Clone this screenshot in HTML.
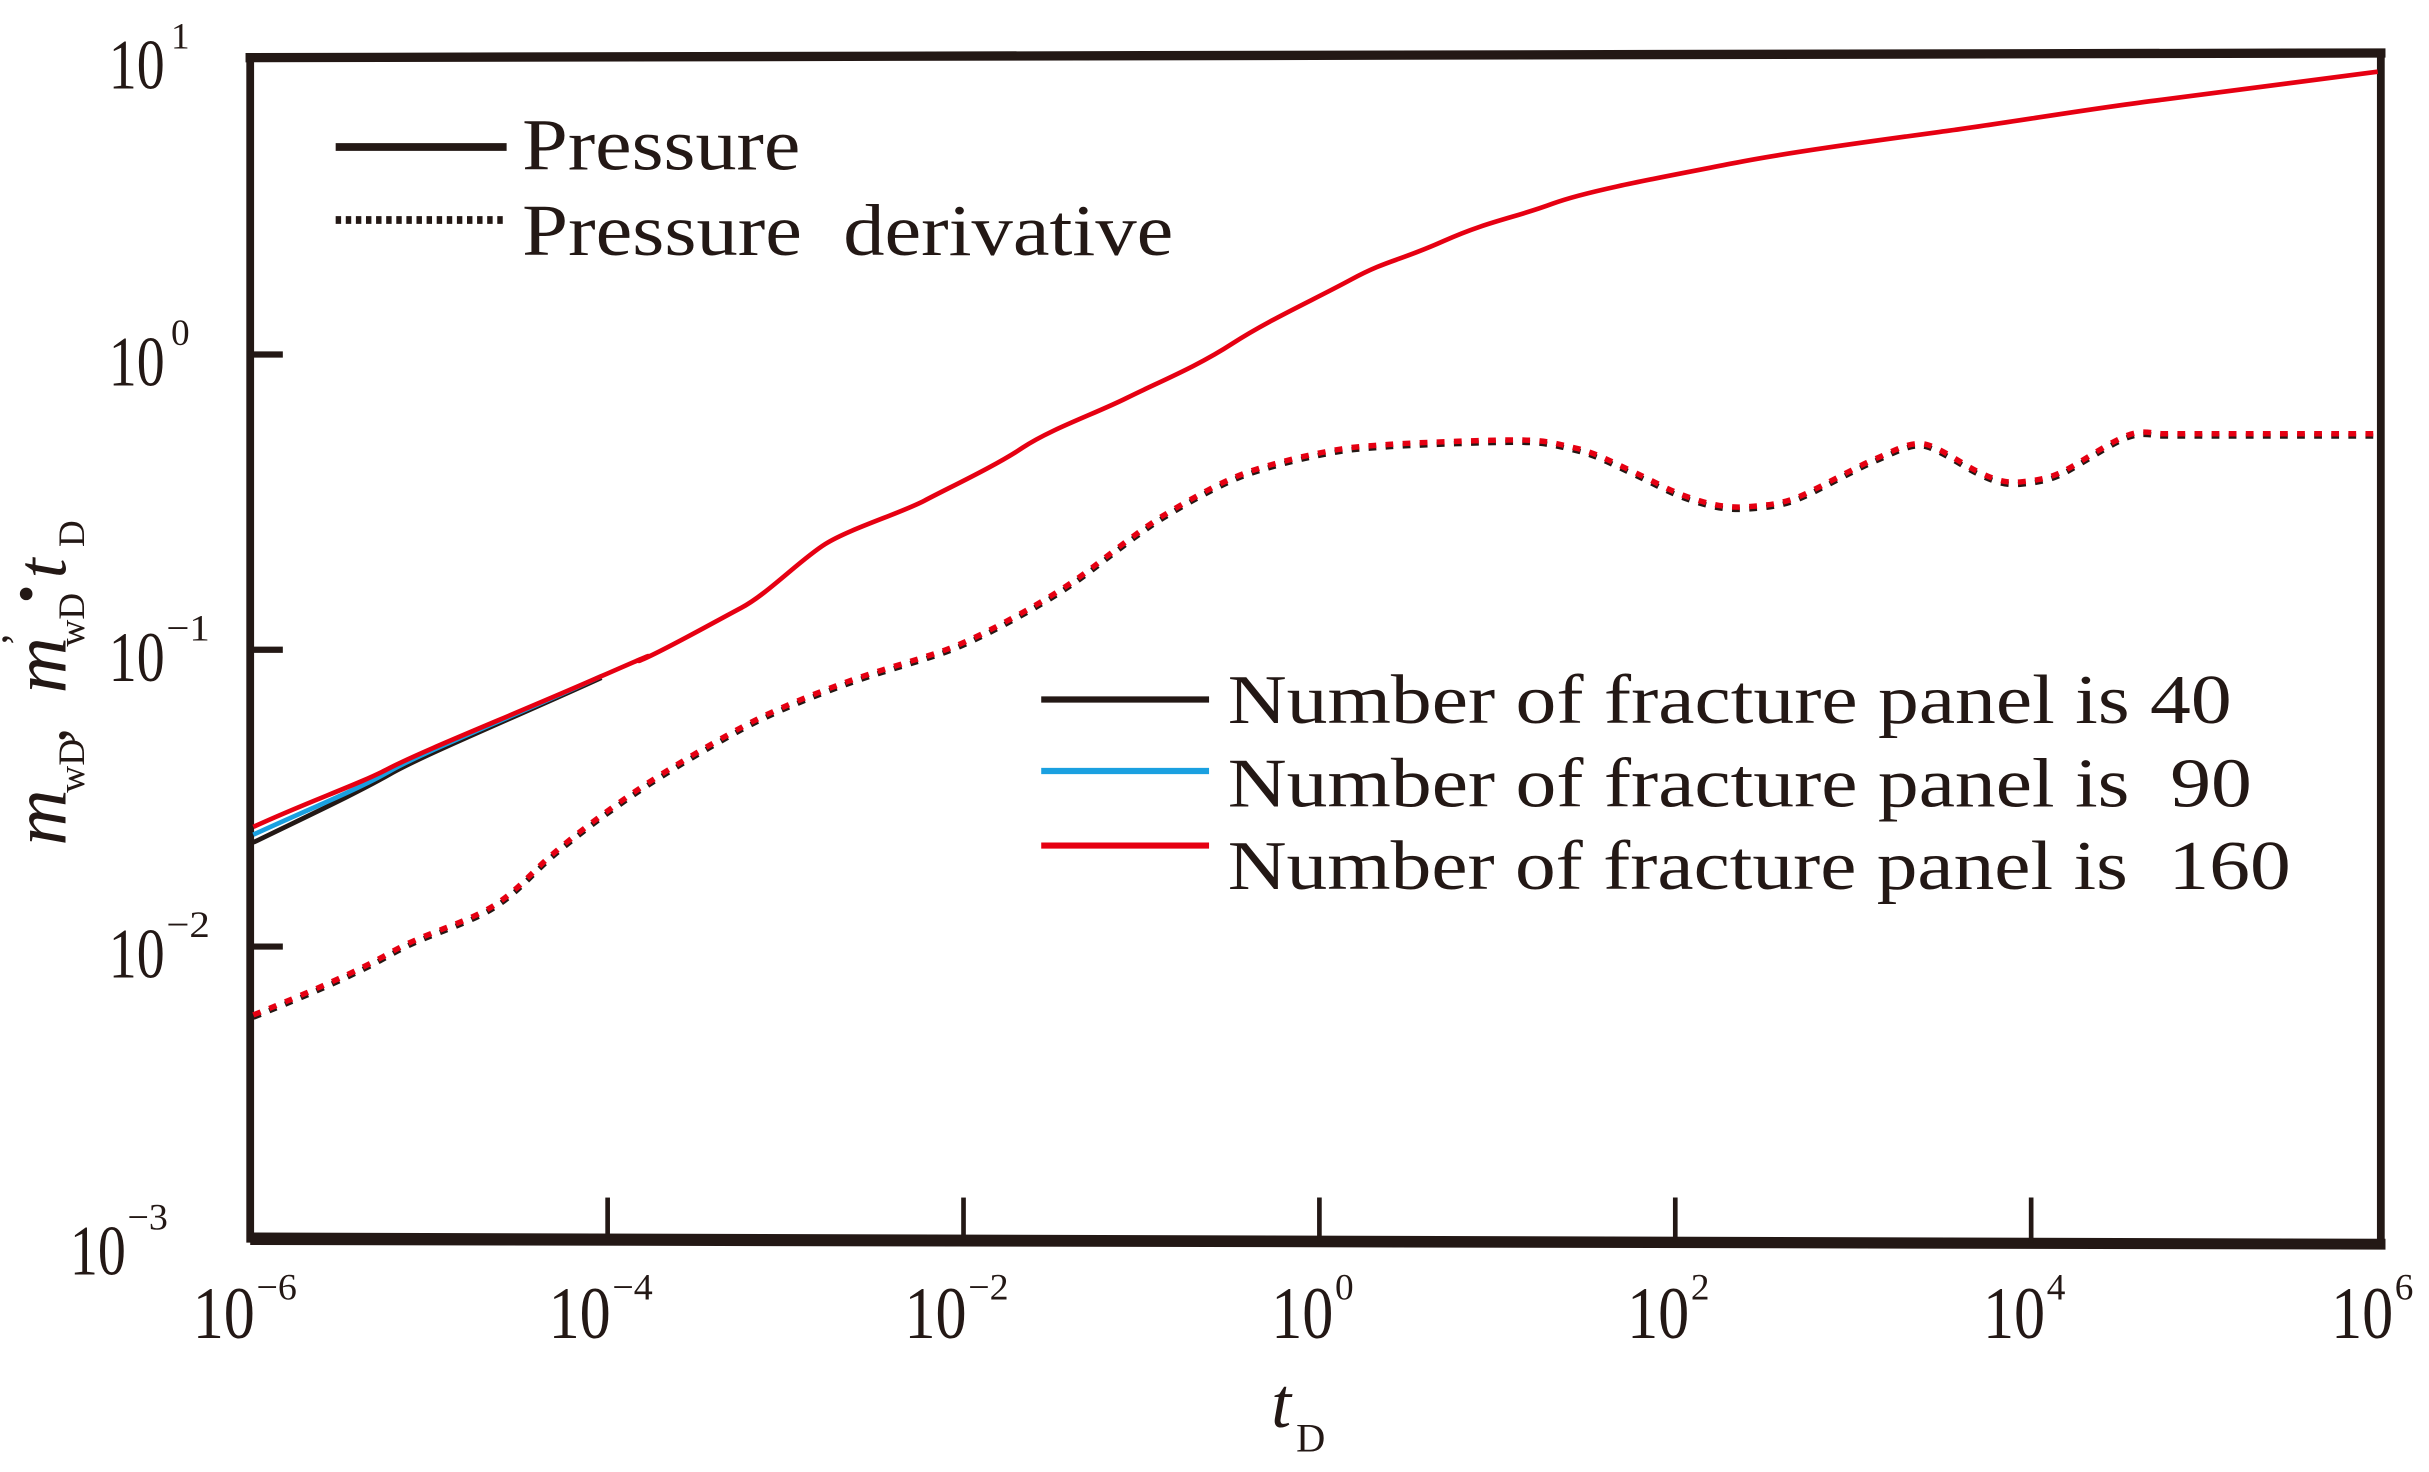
<!DOCTYPE html>
<html><head><meta charset="utf-8"><style>
html,body{margin:0;padding:0;background:#fff;}
svg{display:block;}
text{font-family:"Liberation Serif",serif;fill:#231815;}
</style></head><body>
<svg width="2429" height="1472" viewBox="0 0 1563 947" xmlns="http://www.w3.org/2000/svg">
<rect width="1563" height="947" fill="#fff"/>
<g stroke="#231815" fill="none" stroke-linecap="square">
<line x1="161" y1="37" x2="1532" y2="34" stroke-width="6"/>
<line x1="161" y1="37" x2="161" y2="797" stroke-width="5"/>
<line x1="1532" y1="34" x2="1532" y2="800" stroke-width="5"/>
<polygon points="161,793 1535,797 1535,804 161,801" fill="#231815" stroke="none"/>
<g stroke-width="4">
<line x1="161" y1="228" x2="180" y2="228"/>
<line x1="161" y1="418" x2="180" y2="418"/>
<line x1="161" y1="609" x2="180" y2="609"/>
</g>
<g stroke-width="3">
<line x1="391" y1="795" x2="391" y2="772"/>
<line x1="620" y1="796" x2="620" y2="772"/>
<line x1="849" y1="797" x2="849" y2="772"/>
<line x1="1078" y1="797" x2="1078" y2="772"/>
<line x1="1307" y1="798" x2="1307" y2="772"/>
</g>
</g>
<g font-size="46">
<text x="70" y="57" textLength="36" lengthAdjust="spacingAndGlyphs">10</text><text x="110" y="31" font-size="24">1</text>
<text x="70" y="248" textLength="36" lengthAdjust="spacingAndGlyphs">10</text><text x="110" y="222" font-size="24">0</text>
<text x="70" y="438" textLength="36" lengthAdjust="spacingAndGlyphs">10</text><text x="107" y="412" font-size="24" textLength="28" lengthAdjust="spacingAndGlyphs">−1</text>
<text x="70" y="629" textLength="36" lengthAdjust="spacingAndGlyphs">10</text><text x="107" y="603" font-size="24" textLength="28" lengthAdjust="spacingAndGlyphs">−2</text>
<text x="45" y="820" textLength="36" lengthAdjust="spacingAndGlyphs">10</text><text x="82" y="791" font-size="24" textLength="26" lengthAdjust="spacingAndGlyphs">−3</text>
</g>
<g font-size="48">
<text x="124" y="861" textLength="40" lengthAdjust="spacingAndGlyphs">10</text><text x="165" y="836" font-size="24" textLength="26" lengthAdjust="spacingAndGlyphs">−6</text>
<text x="353" y="861" textLength="40" lengthAdjust="spacingAndGlyphs">10</text><text x="394" y="836" font-size="24" textLength="26" lengthAdjust="spacingAndGlyphs">−4</text>
<text x="582" y="861" textLength="40" lengthAdjust="spacingAndGlyphs">10</text><text x="623" y="836" font-size="24" textLength="26" lengthAdjust="spacingAndGlyphs">−2</text>
<text x="818" y="861" textLength="40" lengthAdjust="spacingAndGlyphs">10</text><text x="859" y="836" font-size="24">0</text>
<text x="1047" y="861" textLength="40" lengthAdjust="spacingAndGlyphs">10</text><text x="1088" y="836" font-size="24">2</text>
<text x="1276" y="861" textLength="40" lengthAdjust="spacingAndGlyphs">10</text><text x="1317" y="836" font-size="24">4</text>
<text x="1500" y="861" textLength="40" lengthAdjust="spacingAndGlyphs">10</text><text x="1541" y="836" font-size="24">6</text>
</g>
<text x="818" y="918" font-size="46" font-style="italic">t</text>
<text x="834" y="934" font-size="26">D</text>
<g transform="translate(42,544) rotate(-90)">
<text x="0" y="0" font-size="50" font-style="italic">m</text>
<text x="34" y="12" font-size="24">wD</text>
<text x="66" y="0" font-size="40">,</text>
<text x="98" y="0" font-size="50" font-style="italic">m</text>
<text x="128" y="-22" font-size="28">’</text>
<text x="128" y="12" font-size="24">wD</text>
<text x="156" y="-14" font-size="34">•</text>
<text x="172" y="0" font-size="46" font-style="italic">t</text>
<text x="192" y="12" font-size="24">D</text>
</g>
<line x1="216" y1="94.5" x2="326" y2="94.5" stroke="#231815" stroke-width="5"/>
<line x1="216" y1="141.5" x2="326" y2="141.5" stroke="#231815" stroke-width="5" stroke-dasharray="3.5 3"/>
<text x="336" y="109" font-size="47" textLength="179" lengthAdjust="spacingAndGlyphs">Pressure</text>
<text x="336" y="164" font-size="47" textLength="419" lengthAdjust="spacingAndGlyphs" xml:space="preserve">Pressure  derivative</text>
<line x1="670" y1="450" x2="778" y2="450" stroke="#231815" stroke-width="4"/>
<line x1="670" y1="496" x2="778" y2="496" stroke="#1aa0e0" stroke-width="4"/>
<line x1="670" y1="544" x2="778" y2="544" stroke="#e60012" stroke-width="4"/>
<text x="790" y="465" font-size="45" textLength="646" lengthAdjust="spacingAndGlyphs">Number of fracture panel is 40</text>
<text x="790" y="519" font-size="45" textLength="659" lengthAdjust="spacingAndGlyphs" xml:space="preserve">Number of fracture panel is  90</text>
<text x="790" y="572" font-size="45" textLength="684" lengthAdjust="spacingAndGlyphs" xml:space="preserve">Number of fracture panel is  160</text>
<defs>
<path id="der" d="M163,653 C200,638 230,625 251,613 S290,597 310,587 S340,563 355,550 S390,522 409,509 S455,480 477,468 S525,446 544,439 S585,426 603,420 S640,404 658,394 S690,375 703,365 S735,340 748,332 S785,310 802,304 S840,293 856,290 S880,287 892,286 S955,283 975,283 S1000,285 1013,288 S1035,296 1050,303 S1075,316 1087,320 S1110,327 1124,326 S1148,324 1161,318 S1195,300 1207,295 S1230,283 1240,286 S1262,298 1272,303 S1290,311 1300,310 S1318,308 1328,303 S1358,284 1369,280 S1385,279 1392,279 L1530,279"/>
</defs>
<g fill="none" stroke-width="3" stroke-linejoin="round">
<path d="M163,542 C200,524 230,510 251,498 S330,462 387,436" stroke="#231815"/>
<path d="M163,537 C200,520 230,508 251,496 S330,461 387,435" stroke="#1aa0e0"/>
<use href="#der" stroke="#231815" stroke-width="3.5" stroke-dasharray="5 6" transform="translate(0,1.5)"/>
<path d="M163,532 C200,515 230,505 251,494 S330,460 387,435 S400,430 414,424 S460,400 477,391 S515,360 531,350 S580,330 595,322 S640,300 658,288 S705,266 725,256 S770,236 793,221 S845,193 869,180 S900,168 929,155 S975,140 999,131 S1080,112 1115,105 S1210,90 1254,84 S1350,69 1392,64 L1530,46" stroke="#e60012"/>
<use href="#der" stroke="#e60012" stroke-width="3.5" stroke-dasharray="5 6"/>
</g>
</svg>
</body></html>
